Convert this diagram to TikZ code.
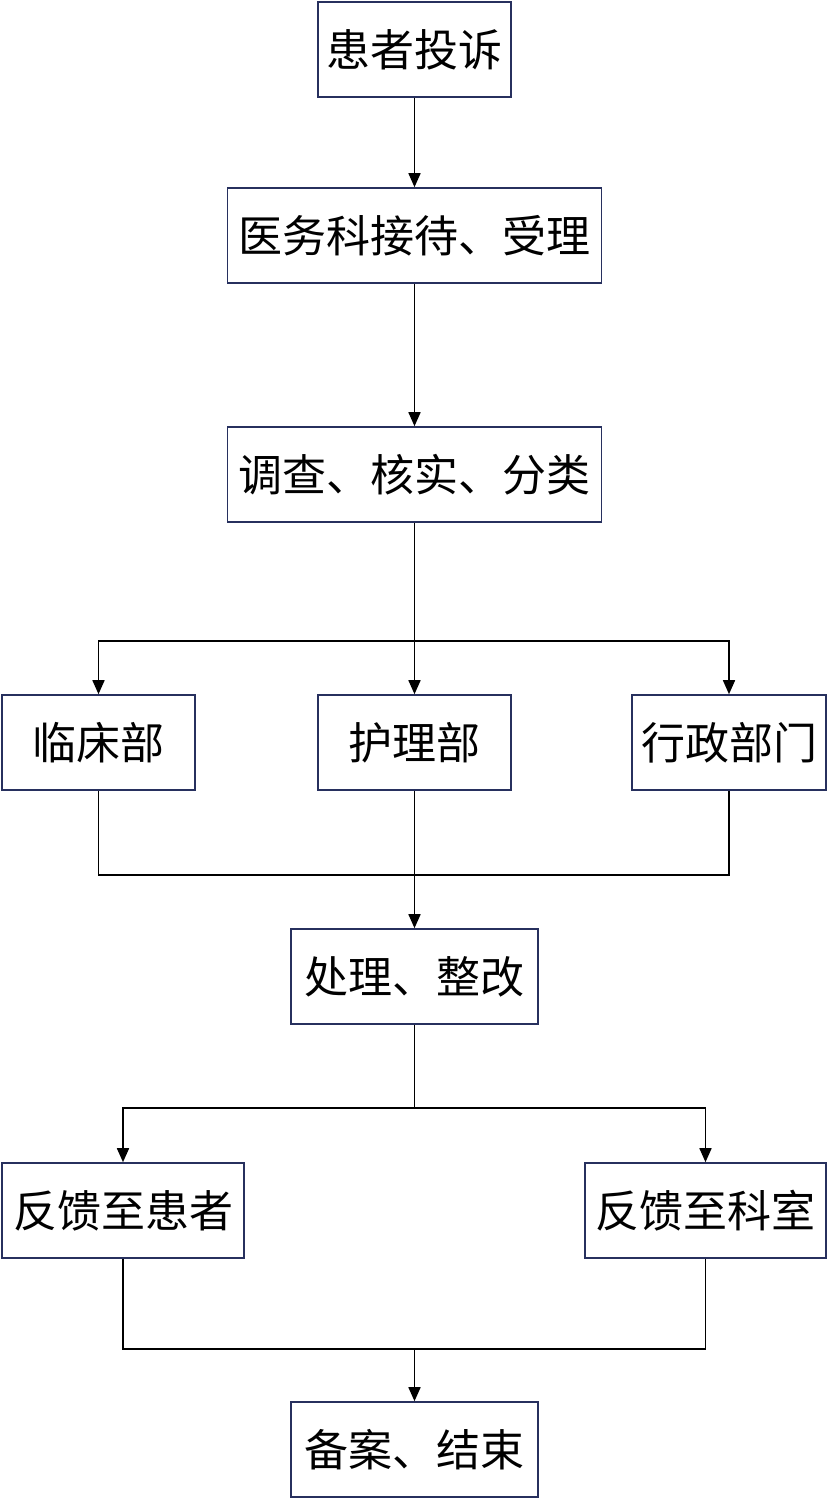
\documentclass[tikz,border=0pt]{standalone}
\usepackage{fontspec}
\setmainfont{Noto Sans CJK SC}
\usetikzlibrary{arrows.meta}
\definecolor{boxline}{HTML}{27305E}

\begin{document}
\begin{tikzpicture}[x=0.5pt,y=-0.5pt,>={Triangle[length=7pt,width=6pt]},line width=0.8pt,
                    flow box/.style={rectangle,draw=boxline,fill=white,
                      minimum height=47.5pt,inner sep=0pt,font=\fontsize{22}{26}\selectfont}]
  \useasboundingbox (0,0) rectangle (828,1500);
  \node[flow box,minimum width=96.5pt] (ts) at (414.5,49.5) {患者投诉};
  \node[flow box,minimum width=187pt] (sl) at (414.5,235.5) {医务科接待、受理};
  \node[flow box,minimum width=187pt] (dc) at (414.5,474.5) {调查、核实、分类};
  \node[flow box,minimum width=96.5pt] (lc) at (98.5,742.5) {临床部};
  \node[flow box,minimum width=96.5pt] (hl) at (414.5,742.5) {护理部};
  \node[flow box,minimum width=97pt] (xz) at (729,742.5) {行政部门};
  \node[flow box,minimum width=123.5pt] (cl) at (414.5,976.5) {处理、整改};
  \node[flow box,minimum width=121pt] (fh) at (123,1210.5) {反馈至患者};
  \node[flow box,minimum width=120.5pt] (fk) at (705.5,1210.5) {反馈至科室};
  \node[flow box,minimum width=123.5pt] (ba) at (414.5,1449.5) {备案、结束};
  % split and merge points
  \coordinate (fen) at (414.5,641);
  \coordinate (he) at (414.5,875);
  \coordinate (fan) at (414.5,1108);
  \coordinate (hui) at (414.5,1349);
  \path[draw]
    (ts) edge[->] (sl)
    (sl) edge[->] (dc);
  \draw (dc) -- (fen);
  \draw[->] (fen) -| (lc);
  \draw[->] (fen) -- (hl);
  \draw[->] (fen) -| (xz);
  \draw (lc) |- (he);
  \draw (xz) |- (he);
  \draw[->] (hl) -- (cl);
  \draw (cl) -- (fan);
  \draw[->] (fan) -| (fh);
  \draw[->] (fan) -| (fk);
  \draw (fh) |- (hui);
  \draw (fk) |- (hui);
  \draw[->] (hui) -- (ba);
\end{tikzpicture}
\end{document}
